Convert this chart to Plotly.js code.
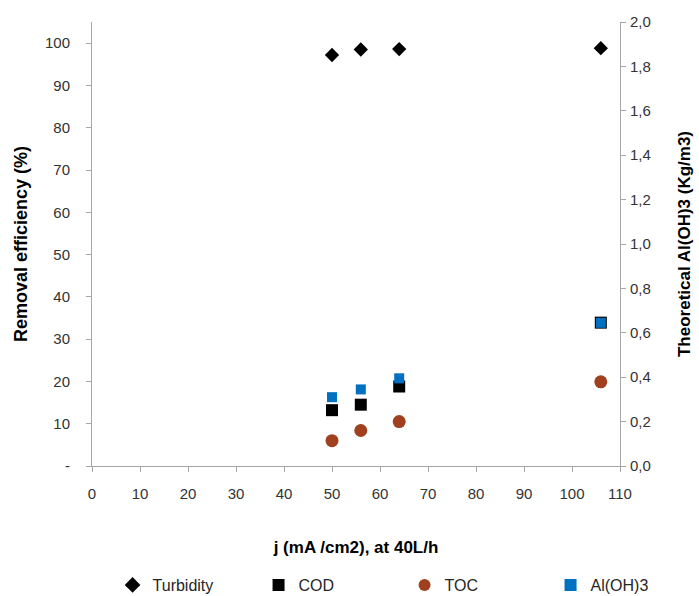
<!DOCTYPE html>
<html>
<head>
<meta charset="utf-8">
<script src="https://cdn.plot.ly/plotly-3.0.1.min.js"></script>
<style>html,body{margin:0;padding:0;background:#fff;}#chart{width:699px;height:596px;}</style>
</head>
<body>
<div id="chart"></div>
<script>
// Data
const currentDensity = [50, 56, 64, 106];
const turbidity = [97.2, 98.5, 98.6, 98.8];
const cod = [13.2, 14.5, 18.8, 33.9];
const toc = [6.0, 8.4, 10.5, 19.9];
const aloh3 = [0.31, 0.345, 0.395, 0.645];

const leftTickVals = [0, 10, 20, 30, 40, 50, 60, 70, 80, 90, 100];
const leftTickText = ['-', '10', '20', '30', '40', '50', '60', '70', '80', '90', '100'];
const xTickVals = [0, 10, 20, 30, 40, 50, 60, 70, 80, 90, 100, 110];

const font = '"Liberation Sans", Arial, sans-serif';
const axisGray = '#a6a6a6';
const tickColor = '#333333';

const traces = [
  {x: currentDensity, y: turbidity, name: 'Turbidity', type: 'scatter', mode: 'markers',
   marker: {symbol: 'diamond', size: 11, color: '#000000'}},
  {x: currentDensity, y: cod, name: 'COD', type: 'scatter', mode: 'markers',
   marker: {symbol: 'square', size: 12, color: '#000000'}},
  {x: currentDensity, y: toc, name: 'TOC', type: 'scatter', mode: 'markers',
   marker: {symbol: 'circle', size: 13, color: '#A0401F'}},
  {x: currentDensity, y: aloh3, name: 'Al(OH)3', type: 'scatter', mode: 'markers', yaxis: 'y2',
   marker: {symbol: 'square', size: 10, color: '#0070C0'}}
];

const layout = {
  width: 699, height: 596,
  margin: {l: 92, r: 79, t: 22, b: 130, autoexpand: false},
  paper_bgcolor: '#ffffff', plot_bgcolor: '#ffffff',
  separators: ', ',
  font: {family: font, size: 15, color: tickColor},
  showlegend: true,
  legend: {orientation: 'h', xref: 'paper', yref: 'paper', x: 1.145, y: -0.268, xanchor: 'right', yanchor: 'middle',
           entrywidth: 101, entrywidthmode: 'pixels', font: {family: font, size: 16, color: '#262626'},
           itemsizing: 'constant', tracegroupgap: 0},
  xaxis: {range: [0, 110], tickvals: xTickVals, showgrid: false, zeroline: false,
          showline: true, linecolor: axisGray, linewidth: 1, ticks: 'outside', ticklen: 5, tickcolor: axisGray,
          ticklabelstandoff: 9,
          tickfont: {family: font, size: 15, color: tickColor},
          title: {text: '<b>j (mA /cm2), at 40L/h</b>', font: {family: font, size: 17, color: '#000'}, standoff: 40}},
  yaxis: {range: [0, 105], tickvals: leftTickVals, ticktext: leftTickText, showgrid: false, zeroline: false,
          showline: true, linecolor: axisGray, linewidth: 1, ticks: 'outside', ticklen: 5, tickcolor: axisGray,
          ticklabelstandoff: 13,
          tickfont: {family: font, size: 15, color: tickColor},
          title: {text: '<b>Removal efficiency (%)</b>', font: {family: font, size: 18, color: '#000'}, standoff: 12}},
  yaxis2: {range: [0, 2.0], dtick: 0.2, tick0: 0, tickformat: '.1f', overlaying: 'y', side: 'right', showgrid: false, zeroline: false,
           showline: true, linecolor: axisGray, linewidth: 1, ticks: 'outside', ticklen: 5, tickcolor: axisGray,
           ticklabelstandoff: 1,
           tickfont: {family: font, size: 15, color: tickColor},
           title: {text: '<b>Theoretical Al(OH)3 (Kg/m3)</b>', font: {family: font, size: 17, color: '#000'}, standoff: 28}}
};

Plotly.newPlot('chart', traces, layout, {displayModeBar: false, staticPlot: true});
</script>
</body>
</html>
